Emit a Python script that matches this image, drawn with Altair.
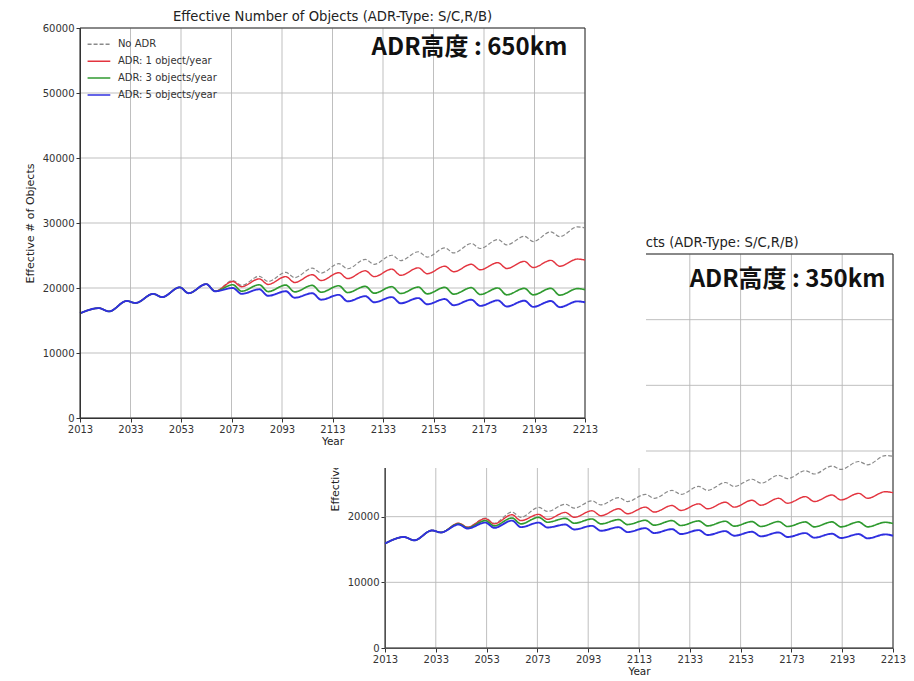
import altair as alt
import pandas as pd

# ---------------- data ----------------
YEARS = [2013, 2020.5, 2024.5, 2031.5, 2035, 2042, 2045.5, 2052.5, 2056, 2063, 2066.5,
         2073.5, 2077, 2084, 2087.5, 2094.5, 2098, 2105, 2108.5, 2115.5, 2119,
         2126, 2129.5, 2136.5, 2140, 2147, 2150.5, 2157.5, 2161, 2168, 2171.5,
         2178.5, 2182, 2189, 2192.5, 2199.5, 2203, 2210, 2213]

SERIES = ["No ADR", "ADR: 1 object/year", "ADR: 3 objects/year", "ADR: 5 objects/year"]

# ADR altitude 650 km
A650_NOADR = [16100, 16900, 16400, 18000, 17700, 19100, 18600, 20100, 19200, 20600, 19500,
              21150, 20400, 21800, 21000, 22400, 21600, 23060, 22300, 23740, 22960,
              24400, 23640, 25040, 24220, 25580, 24760, 26170, 25400, 26850, 26080,
              27450, 26630, 27950, 27150, 28650, 27900, 29400, 29250]
A650_ADR1 = [16100, 16900, 16400, 18000, 17700, 19100, 18600, 20100, 19200, 20600, 19500,
             21000, 20200, 21400, 20550, 21750, 20850, 22050, 21150, 22350, 21450,
             22650, 21750, 22900, 21950, 23100, 22200, 23350, 22500, 23650, 22800,
             23900, 23000, 24100, 23150, 24250, 23350, 24450, 24300]
A650_ADR3 = [16100, 16900, 16400, 18000, 17700, 19100, 18600, 20100, 19200, 20600, 19500,
             20500, 19500, 20500, 19450, 20450, 19400, 20400, 19350, 20350, 19300,
             20250, 19200, 20200, 19150, 20150, 19100, 20100, 19050, 20050, 19000,
             20000, 18950, 19950, 18950, 19950, 18900, 19900, 19750]
A650_ADR5 = [16100, 16900, 16400, 18000, 17700, 19100, 18600, 20100, 19200, 20600, 19500,
             20000, 19100, 19800, 18800, 19500, 18500, 19200, 18200, 18950, 17950,
             18750, 17800, 18600, 17650, 18450, 17500, 18300, 17350, 18200, 17250,
             18100, 17150, 18050, 17100, 18000, 17050, 17950, 17800]

# ADR altitude 350 km
A350_NOADR = [15900, 16900, 16400, 17900, 17600, 19000, 18400, 19800, 19000, 20700, 19900,
              21400, 20800, 21900, 21300, 22400, 21800, 22900, 22300, 23400, 22800,
              24000, 23400, 24600, 24000, 25200, 24600, 25700, 25100, 26300, 25800,
              27000, 26500, 27700, 27200, 28400, 27900, 29300, 29200]
A350_ADR1 = [15900, 16900, 16400, 17900, 17600, 19000, 18400, 19700, 18900, 20300, 19400,
             20350, 19600, 20650, 19900, 20900, 20150, 21200, 20450, 21450, 20700,
             21700, 20950, 21950, 21200, 22200, 21450, 22500, 21750, 22800, 22050,
             23050, 22300, 23300, 22550, 23550, 22800, 23800, 23650]
A350_ADR3 = [15900, 16900, 16400, 17900, 17600, 18900, 18300, 19400, 18600, 19800, 18900,
             19900, 19150, 19750, 19000, 19650, 18900, 19550, 18800, 19450, 18700,
             19400, 18650, 19350, 18600, 19300, 18550, 19250, 18500, 19250, 18500,
             19200, 18450, 19200, 18450, 19200, 18450, 19150, 18950]
A350_ADR5 = [15900, 16900, 16400, 17900, 17600, 18800, 18200, 19100, 18300, 19400, 18400,
             19100, 18350, 18800, 18050, 18600, 17850, 18400, 17650, 18250, 17500,
             18100, 17350, 17950, 17200, 17800, 17100, 17700, 17000, 17600, 16900,
             17500, 16800, 17400, 16750, 17350, 16700, 17300, 17100]

X_TICKS = [2013, 2033, 2053, 2073, 2093, 2113, 2133, 2153, 2173, 2193, 2213]
Y_TICKS = [0, 10000, 20000, 30000, 40000, 50000, 60000]

TITLE = "Effective Number of Objects (ADR-Type: S/C,R/B)"
TAG_650 = "ADR高度 : 650km"
TAG_350 = "ADR高度 : 350km"

COLORS = ["#8a8a8a", "#e3343f", "#2f9a2f", "#2f2fe0"]
DASHES = [[4, 2], [1, 0], [1, 0], [1, 0]]
WIDTHS = [1.2, 1.9, 1.9, 1.9]

# legend layout (in the 650 km panel's axis units)
LEG_ROWS = [57500, 54900, 52300, 49700]
LEG_SAMPLE = (2016.0, 2025.0)
LEG_TEXT_X = 2028.0

FONT = "DejaVu Sans"
W, H = 898, 673

color_enc = alt.Color("series:N", scale=alt.Scale(domain=SERIES, range=COLORS), legend=None)
dash_enc = alt.StrokeDash("series:N", scale=alt.Scale(domain=SERIES, range=DASHES), legend=None)
width_enc = alt.StrokeWidth("series:N", scale=alt.Scale(domain=SERIES, range=WIDTHS), legend=None)


def long_frame(series_values):
    rows = []
    for name, vals in zip(SERIES, series_values):
        for y, v in zip(YEARS, vals):
            rows.append({"year": y, "value": v, "series": name})
    return pd.DataFrame(rows)


def panel(df, xrange, yrange, xoff, yoff, zidx, tag, show_legend):
    xs = alt.Scale(domain=[X_TICKS[0], X_TICKS[-1]], range=xrange, nice=False, zero=False)
    ys = alt.Scale(domain=[Y_TICKS[0], Y_TICKS[-1]], range=yrange, nice=False, zero=False)
    xa = alt.Axis(orient="bottom", offset=xoff, values=X_TICKS, format="d", grid=False,
                  title="Year", titleFontSize=10.5, titleFontWeight="normal", titleFont=FONT,
                  titleColor="#222", titlePadding=2, labelFont=FONT, labelFontSize=10,
                  labelColor="#333", tickColor="#333", tickSize=4, domainColor="#333",
                  labelFlush=False, zindex=zidx)
    ya = alt.Axis(orient="left", offset=yoff, values=Y_TICKS, format="d", grid=False,
                  title="Effective # of Objects", titleFontSize=11, titleFontWeight="normal",
                  titleFont=FONT, titleColor="#222", titlePadding=7, labelFont=FONT,
                  labelFontSize=10, labelColor="#333", tickColor="#333", tickSize=4,
                  domainColor="#333", labelFlush=False, zindex=zidx)

    def X(f):
        return alt.X(f, type="quantitative", scale=xs, axis=xa)

    def Y(f):
        return alt.Y(f, type="quantitative", scale=ys, axis=ya)

    vgrid = pd.DataFrame({"year": X_TICKS, "lo": Y_TICKS[0], "hi": Y_TICKS[-1]})
    hgrid = pd.DataFrame({"value": Y_TICKS, "x0": X_TICKS[0], "x1": X_TICKS[-1]})
    frame = pd.DataFrame({"year": [X_TICKS[0]], "year2": [X_TICKS[-1]],
                          "lo": [Y_TICKS[0]], "hi": [Y_TICKS[-1]]})

    g1 = alt.Chart(vgrid).mark_rule(color="#b8b8b8", strokeWidth=0.9).encode(
        x=X("year"), y=Y("lo"), y2="hi")
    g2 = alt.Chart(hgrid).mark_rule(color="#b8b8b8", strokeWidth=0.9).encode(
        x=X("x0"), x2="x1", y=Y("value"))
    box = alt.Chart(frame).mark_rect(fill=None, stroke="#333", strokeWidth=1).encode(
        x=X("year"), x2="year2", y=Y("lo"), y2="hi")

    lines = alt.Chart(df).mark_line(interpolate="monotone").encode(
        x=X("year"), y=Y("value"), color=color_enc, strokeDash=dash_enc,
        strokeWidth=width_enc, order=alt.Order("year:Q"))

    tdf = pd.DataFrame({"year": [(X_TICKS[0] + X_TICKS[-1]) / 2], "value": [Y_TICKS[-1]],
                        "txt": [TITLE]})
    title = alt.Chart(tdf).mark_text(baseline="bottom", dy=-4, font=FONT, fontSize=13.2,
                                     color="#222").encode(x=X("year"), y=Y("value"), text="txt:N")
    kdf = pd.DataFrame({"year": [tag[1]], "value": [tag[2]], "txt": [tag[0]]})
    label = alt.Chart(kdf).mark_text(align="right", baseline="middle",
                                     font="Noto Sans CJK JP", fontSize=24, fontWeight="bold",
                                     color="#111").encode(x=X("year"), y=Y("value"), text="txt:N")
    layers = [g1, g2, box, lines, title, label]

    if show_legend:
        ldf = pd.DataFrame({"series": SERIES, "row": LEG_ROWS,
                            "x0": LEG_SAMPLE[0], "x1": LEG_SAMPLE[1], "xt": LEG_TEXT_X})
        lsym = alt.Chart(ldf).mark_rule(strokeWidth=1.5).encode(
            x=X("x0"), x2="x1", y=Y("row"), color=color_enc, strokeDash=dash_enc)
        ltxt = alt.Chart(ldf).mark_text(align="left", baseline="middle", font=FONT,
                                        fontSize=10, color="#333").encode(
            x=X("xt"), y=Y("row"), text="series:N")
        layers += [lsym, ltxt]
    return alt.layer(*layers)


df650 = long_frame([A650_NOADR, A650_ADR1, A650_ADR3, A650_ADR5])
df350 = long_frame([A350_NOADR, A350_ADR1, A350_ADR3, A350_ADR5])

# chart 1 (650 km) plot box: page x 80..585, y 28..418  -> plot coords minus 8px margin
p650 = panel(df650, [72, 577], [410, 20], 410 - H, -72, 2, (TAG_650, 2206, 56900), True)
# chart 2 (350 km) plot box: page x 385..893, y 254..648
p350 = panel(df350, [377, 885], [640, 246], 640 - H, -377, 0, (TAG_350, 2210, 56000), False)

cover = alt.Chart(pd.DataFrame({"a": [0]})).mark_rect(color="white").encode(
    x=alt.value(0), x2=alt.value(638), y=alt.value(0), y2=alt.value(460))

chart = alt.layer(p350, cover, p650).resolve_scale(
    x="independent", y="independent"
).properties(
    width=W, height=H, padding=0, background="white",
    autosize=alt.AutoSizeParams(type="none")
).configure_view(strokeWidth=0, stroke="transparent")

chart.save("out.html", embed_options={"renderer": "svg", "actions": False})
